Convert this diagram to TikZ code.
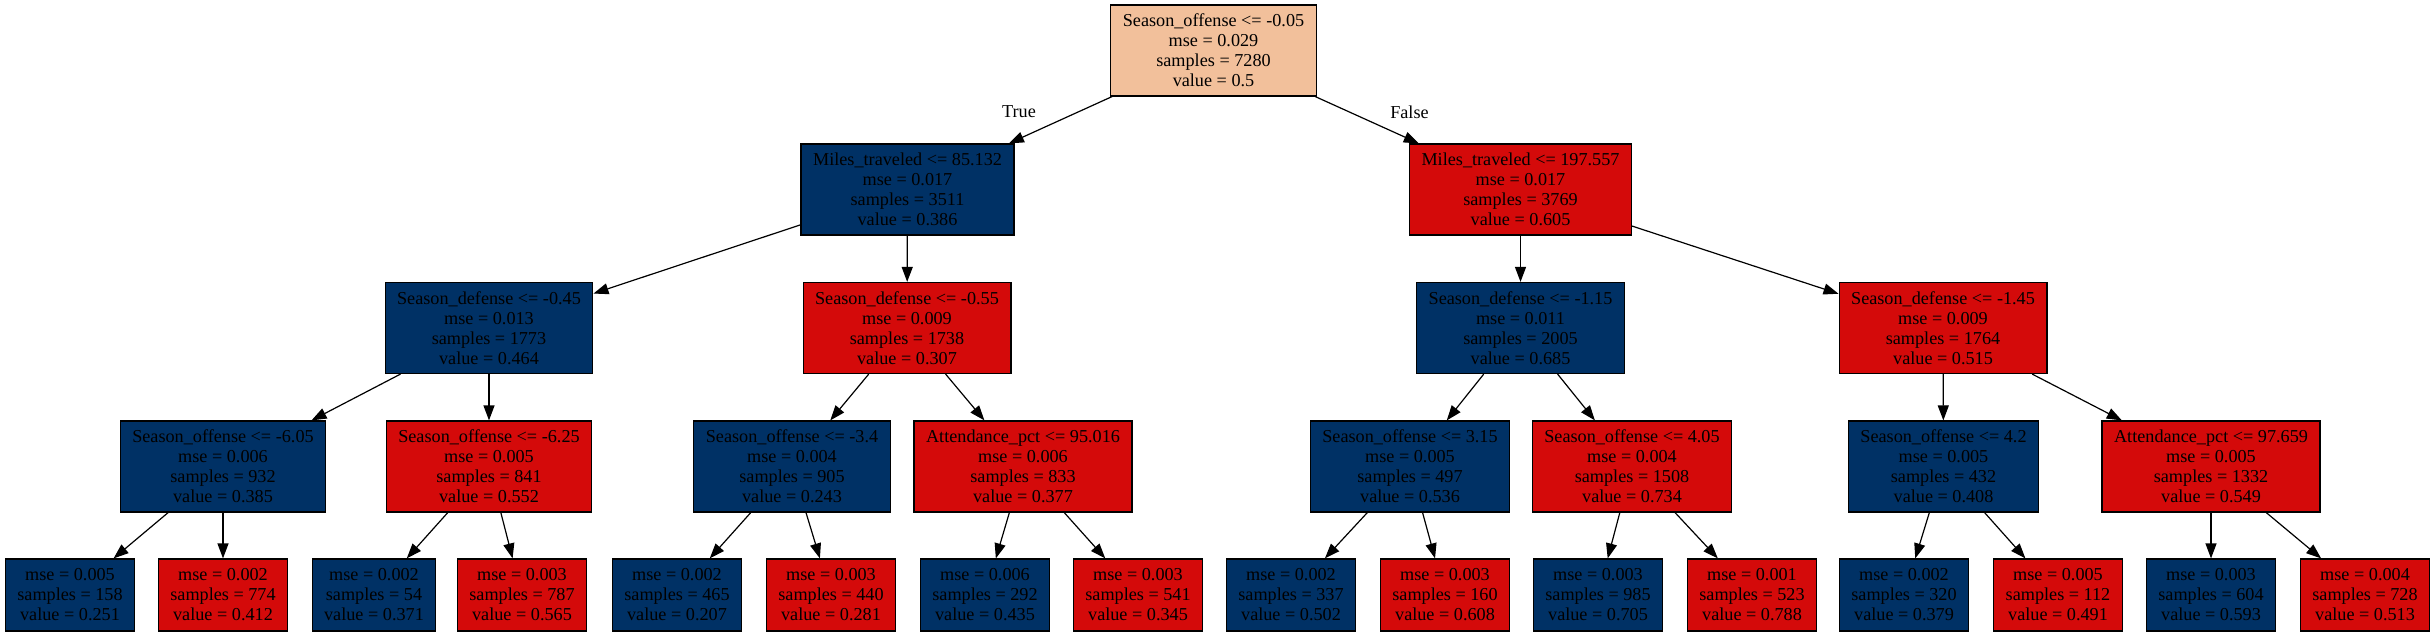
\documentclass[tikz,border=0pt]{standalone}
\usepackage{fontspec}
\setmainfont{Liberation Serif}
\usepackage{tikz}
\usetikzlibrary{arrows.meta,positioning}
\definecolor{lowblue}{RGB}{0,49,101}
\definecolor{highred}{RGB}{212,10,10}
\definecolor{rootpeach}{RGB}{242,192,155}

\begin{document}
\begin{tikzpicture}[->, >={Triangle[length=15pt,width=11pt]}, line width=1.2pt, x=1pt, y=-1pt,
        font=\fontsize{18.2pt}{20pt}\selectfont]
        \tikzstyle{split}=[rectangle,draw=black,align=center,minimum height=91pt,inner xsep=12pt,inner ysep=0pt,text=black]
        \tikzstyle{leaf}=[split,minimum height=72pt]
        \tikzstyle{lo}=[fill=lowblue]
        \tikzstyle{hi}=[fill=highred]
        \useasboundingbox (0,0) rectangle (2435,636);

        % root and first split
        \node[split, fill=rootpeach] (R)  at (1213.5,50.5) {Season\_offense <= -0.05\\mse = 0.029\\samples = 7280\\value = 0.5};
        \node[split, lo] (M1) at (907.5,189.5)  {Miles\_traveled <= 85.132\\mse = 0.017\\samples = 3511\\value = 0.386};
        \node[split, hi] (M2) at (1520.5,189.5) {Miles\_traveled <= 197.557\\mse = 0.017\\samples = 3769\\value = 0.605};

        % second level
        \node[split, lo] (D1) at (489,328)    {Season\_defense <= -0.45\\mse = 0.013\\samples = 1773\\value = 0.464};
        \node[split, hi] (D2) at (907,328)    {Season\_defense <= -0.55\\mse = 0.009\\samples = 1738\\value = 0.307};
        \node[split, lo] (D3) at (1520.5,328) {Season\_defense <= -1.15\\mse = 0.011\\samples = 2005\\value = 0.685};
        \node[split, hi] (D4) at (1943,328)   {Season\_defense <= -1.45\\mse = 0.009\\samples = 1764\\value = 0.515};

        % third level
        \node[split, lo] (O1) at (223,466.5)    {Season\_offense <= -6.05\\mse = 0.006\\samples = 932\\value = 0.385};
        \node[split, hi] (O2) at (489,466.5)    {Season\_offense <= -6.25\\mse = 0.005\\samples = 841\\value = 0.552};
        \node[split, lo] (O3) at (792,466.5)    {Season\_offense <= -3.4\\mse = 0.004\\samples = 905\\value = 0.243};
        \node[split, hi] (A1) at (1023,466.5)   {Attendance\_pct <= 95.016\\mse = 0.006\\samples = 833\\value = 0.377};
        \node[split, lo] (O4) at (1410,466.5)   {Season\_offense <= 3.15\\mse = 0.005\\samples = 497\\value = 0.536};
        \node[split, hi] (O5) at (1632,466.5)   {Season\_offense <= 4.05\\mse = 0.004\\samples = 1508\\value = 0.734};
        \node[split, lo] (O6) at (1943.5,466.5) {Season\_offense <= 4.2\\mse = 0.005\\samples = 432\\value = 0.408};
        \node[split, hi] (A2) at (2211,466.5)   {Attendance\_pct <= 97.659\\mse = 0.005\\samples = 1332\\value = 0.549};

        % leaves
        \node[leaf, lo] (L1)  at (70,595)   {mse = 0.005\\samples = 158\\value = 0.251};
        \node[leaf, hi] (L2)  at (223,595)  {mse = 0.002\\samples = 774\\value = 0.412};
        \node[leaf, lo] (L3)  at (374,595)  {mse = 0.002\\samples = 54\\value = 0.371};
        \node[leaf, hi] (L4)  at (522,595)  {mse = 0.003\\samples = 787\\value = 0.565};
        \node[leaf, lo] (L5)  at (677,595)  {mse = 0.002\\samples = 465\\value = 0.207};
        \node[leaf, hi] (L6)  at (831,595)  {mse = 0.003\\samples = 440\\value = 0.281};
        \node[leaf, lo] (L7)  at (985,595)  {mse = 0.006\\samples = 292\\value = 0.435};
        \node[leaf, hi] (L8)  at (1138,595) {mse = 0.003\\samples = 541\\value = 0.345};
        \node[leaf, lo] (L9)  at (1291,595) {mse = 0.002\\samples = 337\\value = 0.502};
        \node[leaf, hi] (L10) at (1445,595) {mse = 0.003\\samples = 160\\value = 0.608};
        \node[leaf, lo] (L11) at (1598,595) {mse = 0.003\\samples = 985\\value = 0.705};
        \node[leaf, hi] (L12) at (1752,595) {mse = 0.001\\samples = 523\\value = 0.788};
        \node[leaf, lo] (L13) at (1904,595) {mse = 0.002\\samples = 320\\value = 0.379};
        \node[leaf, hi] (L14) at (2058,595) {mse = 0.005\\samples = 112\\value = 0.491};
        \node[leaf, lo] (L15) at (2211,595) {mse = 0.003\\samples = 604\\value = 0.593};
        \node[leaf, hi] (L16) at (2365,595) {mse = 0.004\\samples = 728\\value = 0.513};

        \path

        (R)
        edge node[pos=0.33, xshift=-59pt] {True} (M1)
        edge node[pos=0.33, xshift=60pt] {False} (M2)

        (M1) edge (D1) edge (D2)
        (M2) edge (D3) edge (D4)

        (D1) edge (O1) edge (O2)
        (D2) edge (O3) edge (A1)
        (D3) edge (O4) edge (O5)
        (D4) edge (O6) edge (A2)

        (O1) edge (L1)  edge (L2)
        (O2) edge (L3)  edge (L4)
        (O3) edge (L5)  edge (L6)
        (A1) edge (L7)  edge (L8)
        (O4) edge (L9)  edge (L10)
        (O5) edge (L11) edge (L12)
        (O6) edge (L13) edge (L14)
        (A2) edge (L15) edge (L16);
    \end{tikzpicture}
\end{document}
